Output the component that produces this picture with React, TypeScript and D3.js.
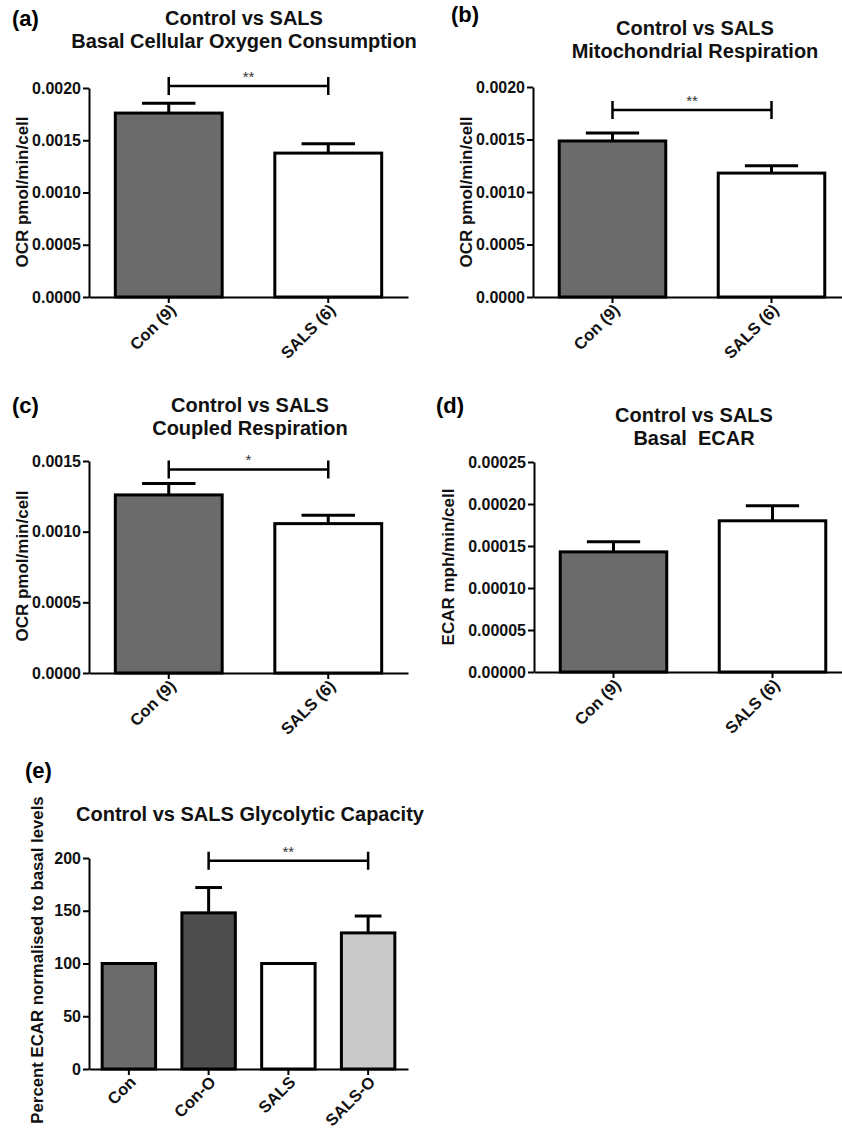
import React, { useRef, useEffect } from 'react';
import * as d3 from 'd3';

// groups and values
const twoGroups = ['Con (9)', 'SALS (6)'];
const basalOcr = [0.00176, 0.001377];
const basalOcrErr = [0.000095, 0.00009];
const mitoResp = [0.001486, 0.00118];
const mitoRespErr = [0.000075, 0.00007];
const coupledResp = [0.00126, 0.001057];
const coupledRespErr = [0.00008, 0.00006];
const basalEcar = [0.000143, 0.00018];
const basalEcarErr = [0.000012, 0.000018];

const glyGroups = ['Con', 'Con-O', 'SALS', 'SALS-O'];
const glyCapacity = [100, 148, 100, 129];
const glyCapacityErr = [0, 24, 0, 16];

const ocrTicks = [0, 0.0005, 0.001, 0.0015, 0.002];
const coupledTicks = [0, 0.0005, 0.001, 0.0015];
const ecarTicks = [0, 0.00005, 0.0001, 0.00015, 0.0002, 0.00025];
const glyTicks = [0, 50, 100, 150, 200];

const FONT = '"Liberation Sans", Arial, sans-serif';
const CON_FILL = '#6b6b6b';
const SALS_FILL = '#ffffff';

const panels = [
    {
        letter: '(a)', letterX: 12, letterY: 26,
        title: ['Control vs SALS', 'Basal Cellular Oxygen Consumption'], titleX: 244, titleY: 25,
        x0: 89, x1: 408, yBottom: 297, yTop: 88, max: 0.002, ticks: ocrTicks, fmt: '.4f',
        yLabel: 'OCR pmol/min/cell', yLabelX: 22, yLabelY: 192, yLabelSize: 17,
        cats: twoGroups, means: basalOcr, errs: basalOcrErr, fills: [CON_FILL, SALS_FILL],
        bracket: { from: 0, to: 1, value: 0.00202, label: '**' }
    },
    {
        letter: '(b)', letterX: 451, letterY: 22,
        title: ['Control vs SALS', 'Mitochondrial Respiration'], titleX: 695, titleY: 35,
        x0: 533, x1: 851, yBottom: 297, yTop: 87, max: 0.002, ticks: ocrTicks, fmt: '.4f',
        yLabel: 'OCR pmol/min/cell', yLabelX: 466, yLabelY: 192, yLabelSize: 17,
        cats: twoGroups, means: mitoResp, errs: mitoRespErr, fills: [CON_FILL, SALS_FILL],
        bracket: { from: 0, to: 1, value: 0.00178, label: '**' }
    },
    {
        letter: '(c)', letterX: 12, letterY: 413,
        title: ['Control vs SALS', 'Coupled Respiration'], titleX: 250, titleY: 412,
        x0: 89, x1: 408, yBottom: 673, yTop: 461, max: 0.0015, ticks: coupledTicks, fmt: '.4f',
        yLabel: 'OCR pmol/min/cell', yLabelX: 22, yLabelY: 566, yLabelSize: 17,
        cats: twoGroups, means: coupledResp, errs: coupledRespErr, fills: [CON_FILL, SALS_FILL],
        bracket: { from: 0, to: 1, value: 0.00144, label: '*' }
    },
    {
        letter: '(d)', letterX: 436, letterY: 413,
        title: ['Control vs SALS', 'Basal  ECAR'], titleX: 694, titleY: 422,
        x0: 534, x1: 852, yBottom: 672, yTop: 462, max: 0.00025, ticks: ecarTicks, fmt: '.5f',
        yLabel: 'ECAR mph/min/cell', yLabelX: 448, yLabelY: 567, yLabelSize: 17,
        cats: twoGroups, means: basalEcar, errs: basalEcarErr, fills: [CON_FILL, SALS_FILL],
        bracket: null
    },
    {
        letter: '(e)', letterX: 25, letterY: 778,
        title: ['Control vs SALS Glycolytic Capacity'], titleX: 250, titleY: 821,
        x0: 89, x1: 408, yBottom: 1069, yTop: 858, max: 200, ticks: glyTicks, fmt: 'd',
        yLabel: 'Percent ECAR normalised to basal levels', yLabelX: 37, yLabelY: 960, yLabelSize: 16.8,
        cats: glyGroups, means: glyCapacity, errs: glyCapacityErr,
        fills: [CON_FILL, '#4d4d4d', SALS_FILL, '#c9c9c9'],
        bracket: { from: 1, to: 3, value: 197.5, label: '**' }
    }
];

const App = () => {
    const ref = useRef(null);

    useEffect(() => {
        const svg = d3.select(ref.current);
        svg.selectAll('*').remove();

        panels.forEach(p => {
            const g = svg.append('g');
            const x = d3.scaleBand().domain(p.cats).range([p.x0, p.x1]).paddingInner(0.33).paddingOuter(0.165);
            const y = d3.scaleLinear().domain([0, p.max]).range([p.yBottom, p.yTop]);
            const bw = x.bandwidth();

            // panel letter + title
            g.append('text')
                .attr('x', p.letterX).attr('y', p.letterY)
                .attr('font-family', FONT).attr('font-weight', 'bold').attr('font-size', 22)
                .text(p.letter);
            p.title.forEach((t, i) => {
                g.append('text')
                    .attr('x', p.titleX).attr('y', p.titleY + i * 23)
                    .attr('text-anchor', 'middle')
                    .attr('font-family', FONT).attr('font-weight', 'bold').attr('font-size', 20)
                    .attr('fill', '#111')
                    .style('white-space', 'pre')
                    .text(t);
            });

            // error bars (upward only)
            p.means.forEach((m, i) => {
                if (!p.errs[i]) return;
                const cx = x(p.cats[i]) + bw / 2;
                g.append('line')
                    .attr('x1', cx).attr('x2', cx).attr('y1', y(m)).attr('y2', y(m + p.errs[i]))
                    .attr('stroke', '#000').attr('stroke-width', 3);
                g.append('line')
                    .attr('x1', cx - bw / 4).attr('x2', cx + bw / 4)
                    .attr('y1', y(m + p.errs[i])).attr('y2', y(m + p.errs[i]))
                    .attr('stroke', '#000').attr('stroke-width', 3);
            });

            // bars
            g.selectAll('rect.bar')
                .data(p.means)
                .join('rect')
                .attr('class', 'bar')
                .attr('x', (d, i) => x(p.cats[i]))
                .attr('y', d => y(d))
                .attr('width', bw)
                .attr('height', d => y(0) - y(d))
                .attr('fill', (d, i) => p.fills[i])
                .attr('stroke', '#000')
                .attr('stroke-width', 3);

            // y axis
            const ya = g.append('g')
                .attr('transform', `translate(${p.x0},0)`)
                .call(d3.axisLeft(y).tickValues(p.ticks).tickFormat(d3.format(p.fmt)).tickSize(6).tickSizeOuter(0).tickPadding(2));
            ya.select('.domain').attr('stroke-width', 2);
            ya.selectAll('.tick line').attr('stroke-width', 2);
            ya.selectAll('.tick text')
                .attr('font-family', FONT).attr('font-weight', 'bold').attr('font-size', 16).attr('fill', '#111');

            // x axis
            const xa = g.append('g')
                .attr('transform', `translate(0,${p.yBottom})`)
                .call(d3.axisBottom(x).tickSize(6).tickSizeOuter(0));
            xa.select('.domain').attr('stroke-width', 2);
            xa.selectAll('.tick line').attr('stroke-width', 2);
            xa.selectAll('.tick text')
                .attr('font-family', FONT).attr('font-weight', 'bold').attr('font-size', 16.5).attr('fill', '#111')
                .attr('text-anchor', 'end')
                .attr('x', 0).attr('y', 0).attr('dy', '0.35em')
                .attr('transform', 'translate(4,10) rotate(-45)');

            // y label
            g.append('text')
                .attr('transform', `translate(${p.yLabelX},${p.yLabelY}) rotate(-90)`)
                .attr('dy', '0.36em')
                .attr('text-anchor', 'middle')
                .attr('font-family', FONT).attr('font-weight', 'bold').attr('font-size', p.yLabelSize).attr('fill', '#111')
                .text(p.yLabel);

            // significance bracket
            if (p.bracket) {
                const b = p.bracket;
                const bx1 = x(p.cats[b.from]) + bw / 2;
                const bx2 = x(p.cats[b.to]) + bw / 2;
                const by = y(b.value);
                g.append('path')
                    .attr('d', `M${bx1},${by - 9}V${by + 9}M${bx1},${by}H${bx2}M${bx2},${by - 9}V${by + 9}`)
                    .attr('fill', 'none').attr('stroke', '#000').attr('stroke-width', 2.5);
                g.append('text')
                    .attr('x', (bx1 + bx2) / 2).attr('y', by - 4)
                    .attr('text-anchor', 'middle')
                    .attr('font-family', FONT).attr('font-size', 15).attr('fill', '#333')
                    .text(b.label);
            }
        });
    }, []);

    return (
        <svg ref={ref} width={842} height={1130}
            style={{ position: 'absolute', left: 0, top: 0, background: '#fff' }} />
    );
};

export default App;
